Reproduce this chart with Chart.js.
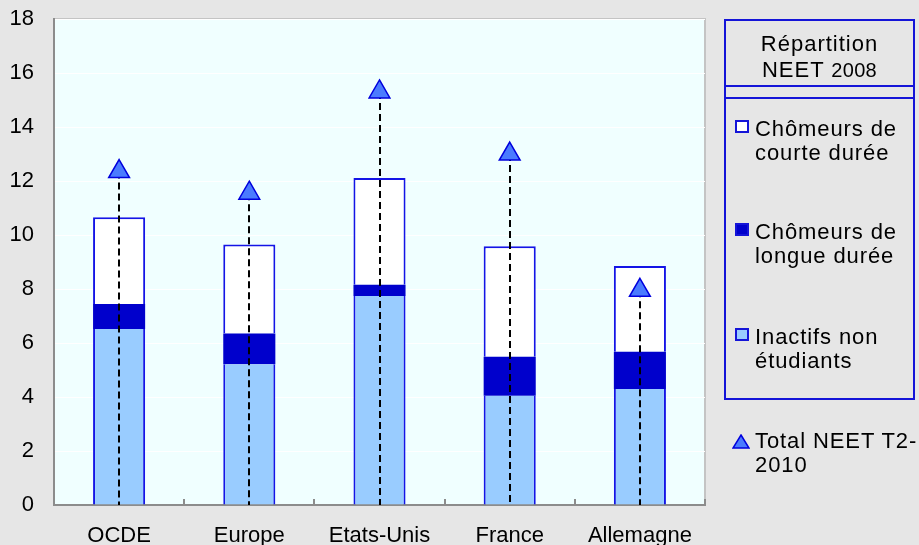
<!DOCTYPE html>
<html lang="fr">
<head>
<meta charset="utf-8">
<title>Répartition NEET</title>
<script src="https://cdn.jsdelivr.net/npm/chart.js@4.4.1/dist/chart.umd.min.js"></script>
<style>
  html, body { margin:0; padding:0; background:#e6e6e6; }
  #wrap { position:relative; width:919px; height:545px; overflow:hidden; font-family:"Liberation Sans", Arial, sans-serif; color:#000; }
  #chart { position:absolute; left:0; top:0; }
  .box { position:absolute; left:724px; top:19px; width:191px; height:381px; box-sizing:border-box; border:2px solid #1414d8; }
  .box .title { position:absolute; left:0; right:0; top:0; height:66px; border-bottom:2px solid #1414d8; text-align:center; font-size:22px; line-height:25.5px; letter-spacing:1px; padding-top:10px; box-sizing:border-box; }
  .box .title small { font-size:20px; letter-spacing:0.3px; }
  .box .sep { position:absolute; left:0; right:0; top:76px; border-top:2px solid #1414d8; }
  .item { position:absolute; font-size:22px; line-height:24px; letter-spacing:0.9px; white-space:nowrap; }
  .sw { position:absolute; left:-20px; top:3px; width:14px; height:13px; box-sizing:border-box; border:2px solid #1414d8; }
</style>
</head>
<body>
<div id="wrap">
  <canvas id="chart" width="919" height="545"></canvas>
  <div class="box">
    <div class="title">Répartition<br>NEET <small>2008</small></div>
    <div class="sep"></div>
  </div>
  <div class="item" style="left:755px;top:117px"><span class="sw" style="background:#fff"></span>Chômeurs de<br>courte durée</div>
  <div class="item" style="left:755px;top:220px"><span class="sw" style="background:#0000cc"></span>Chômeurs de<br>longue durée</div>
  <div class="item" style="left:755px;top:325px"><span class="sw" style="background:#99ccff"></span>Inactifs non<br>étudiants</div>
  <div class="item" style="left:755px;top:429px">
    <svg style="position:absolute;left:-23px;top:5px" width="18" height="15" viewBox="0 0 18 15"><polygon points="9,1 17,14 1,14" fill="#4a7bff" stroke="#0000dd" stroke-width="1.5"/></svg>Total NEET T2-<br>2010</div>
</div>
<script>
// ---- données ----
const categories = ['OCDE', 'Europe', 'Etats-Unis', 'France', 'Allemagne'];
const inactifs   = [6.52, 5.21, 7.74, 4.05, 4.30];
const longue     = [0.92, 1.14, 0.42, 1.44, 1.38];
const courte     = [3.22, 3.30, 3.95, 4.09, 3.17];
const totalT2    = [12.35, 11.55, 15.30, 13.00, 7.95];
const yTicks     = [0, 2, 4, 6, 8, 10, 12, 14, 16, 18];

const BLUE = '#1414e6';
const FONT = { family: '"Liberation Sans", Arial, sans-serif', size: 22 };

// fond du graphique, cadre, tirets verticaux et petites graduations de l'axe X
const plotDecor = {
  id: 'plotDecor',
  beforeDraw(chart){
    const { ctx, chartArea: a } = chart;
    ctx.save();
    ctx.fillStyle = '#f0ffff';
    ctx.fillRect(a.left, a.top, a.right - a.left, a.bottom - a.top);
    ctx.strokeStyle = '#c4c4c4'; ctx.lineWidth = 2;
    ctx.beginPath(); ctx.moveTo(a.left, a.top); ctx.lineTo(a.right, a.top); ctx.lineTo(a.right, a.bottom); ctx.stroke();
    ctx.restore();
  },
  beforeDatasetDraw(chart, args){
    if(args.index !== 3) return;
    const { ctx, scales:{ y } } = chart;
    const y0 = y.getPixelForValue(0);
    ctx.save();
    ctx.strokeStyle = '#000'; ctx.lineWidth = 2; ctx.setLineDash([7, 4]);
    args.meta.data.forEach(pt => {
      ctx.beginPath(); ctx.moveTo(Math.round(pt.x), pt.y); ctx.lineTo(Math.round(pt.x), y0); ctx.stroke();
    });
    ctx.restore();
  },
  afterDraw(chart){
    const { ctx, scales:{ x, y } } = chart;
    const y0 = y.getPixelForValue(0);
    ctx.save();
    ctx.strokeStyle = '#8c8c8c'; ctx.lineWidth = 2;
    for(let i = 1; i <= categories.length; i++){
      const px = i < categories.length ? (x.getPixelForValue(i - 1) + x.getPixelForValue(i)) / 2 : chart.chartArea.right;
      ctx.beginPath(); ctx.moveTo(Math.round(px), y0); ctx.lineTo(Math.round(px), y0 - 6); ctx.stroke();
    }
    ctx.restore();
  }
};

const barCommon = { stack: 'neet', order: 1, categoryPercentage: 1, barPercentage: 0.4, borderColor: BLUE, borderSkipped: false };

new Chart(document.getElementById('chart'), {
  type: 'bar',
  data: {
    labels: categories,
    datasets: [
      { ...barCommon, label: 'Inactifs non étudiants', data: inactifs, backgroundColor: '#99ccff', borderWidth: { left: 2, right: 2, top: 0, bottom: 0 } },
      { ...barCommon, label: 'Chômeurs de longue durée', data: longue, backgroundColor: '#0000cc', borderColor: '#0000cc', borderWidth: 0 },
      { ...barCommon, label: 'Chômeurs de courte durée', data: courte, backgroundColor: '#ffffff', borderWidth: { left: 2, right: 2, top: 2, bottom: 0 } },
      { type: 'line', label: 'Total NEET T2-2010', data: totalT2, order: 0, showLine: false,
        pointStyle: 'triangle', pointRadius: 12, pointHoverRadius: 12,
        pointBackgroundColor: '#4a7bff', pointBorderColor: '#0000dd', pointBorderWidth: 1.5 }
    ]
  },
  options: {
    responsive: false,
    animation: false,
    devicePixelRatio: 1,
    layout: { padding: { top: 19, right: 214, left: 0, bottom: 0 } },
    plugins: { legend: { display: false }, tooltip: { enabled: false } },
    scales: {
      x: {
        stacked: true,
        grid: { display: false },
        border: { display: true, color: '#8c8c8c', width: 2 },
        ticks: { color: '#000', font: FONT, padding: 10 },
        afterFit(s){ s.height = 40; }
      },
      y: {
        stacked: true,
        min: 0, max: 18,
        afterBuildTicks(s){ s.ticks = yTicks.map(v => ({ value: v })); },
        grid: { color: '#ffffff', lineWidth: 1, drawTicks: false },
        border: { display: true, color: '#8c8c8c', width: 2 },
        ticks: { color: '#000', font: FONT, padding: 20 },
        afterFit(s){ s.width = 54; s.paddingTop = 0; s.paddingBottom = 0; }
      }
    }
  },
  plugins: [plotDecor]
});
</script>
</body>
</html>
